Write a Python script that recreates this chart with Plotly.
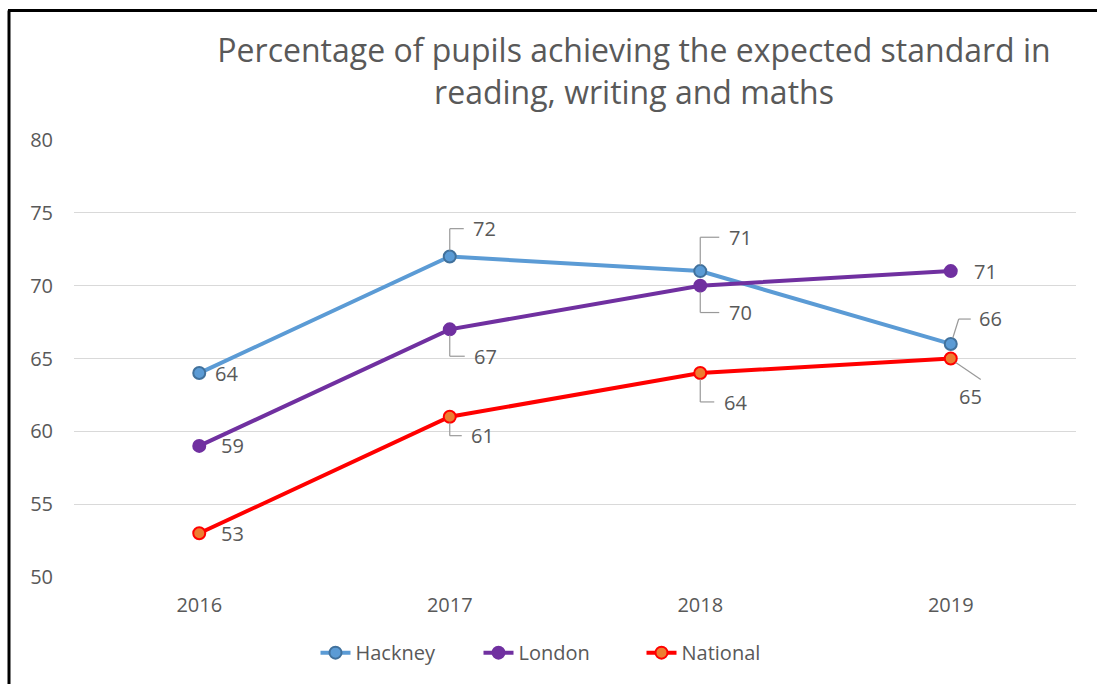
import plotly.graph_objects as go

years = ["2016", "2017", "2018", "2019"]
hackney = [64, 72, 71, 66]
london = [59, 67, 70, 71]
national = [53, 61, 64, 65]
y_ticks = [50, 55, 60, 65, 70, 75, 80]
y_range = [50, 80]
title_text = "Percentage of pupils achieving the expected standard in<br>reading, writing and maths"

W, H = 1097, 684
L, R, T, B = 74, 21, 140, 105
FONT = "Open Sans"
TXT = "#595959"
LEADER = "#999999"

series = [
    dict(name="Hackney", y=hackney, line="#5B9BD5", fill="#5B9BD5", edge="#41719C",
         # label style: (dx, dy, leader) in pixels, dy positive = up
         labels=[(27, 0, None), (35, 28, "up"), (40, 34, "up"), (40, 25, "upslant")]),
    dict(name="London", y=london, line="#7030A0", fill="#7030A0", edge="#7030A0",
         labels=[(33, 0, None), (36, -27, "down"), (40, -27, "down"), (35, 0, None)]),
    dict(name="National", y=national, line="#FF0000", fill="#ED7D31", edge="#FF0000",
         labels=[(33, 0, None), (33, -19, "down"), (35, -29, "down"), (20, -38, "downslant")]),
]

pw, ph = W - L - R, H - T - B
ppx = pw / len(years)                    # pixels per category
ppy = ph / (y_range[1] - y_range[0])     # pixels per unit

fig = go.Figure()
annotations = []
shapes = []

def seg(xi, yv, p0, p1):
    """leader segment given in pixel offsets from a data point"""
    return dict(type="line", xref="x", yref="y", layer="above",
                x0=xi + p0[0] / ppx, y0=yv + p0[1] / ppy,
                x1=xi + p1[0] / ppx, y1=yv + p1[1] / ppy,
                line=dict(color=LEADER, width=1.2))

for s in series:
    fig.add_trace(go.Scatter(
        x=years, y=s["y"], name=s["name"], mode="lines+markers",
        line=dict(color=s["line"], width=4),
        marker=dict(size=12, color=s["fill"], line=dict(color=s["edge"], width=2)),
    ))
    for xi, (yv, (dx, dy, leader)) in enumerate(zip(s["y"], s["labels"])):
        annotations.append(dict(
            x=xi, y=yv, xref="x", yref="y", text=str(yv), showarrow=False,
            xshift=dx, yshift=dy, font=dict(family=FONT, size=20, color=TXT),
        ))
        if leader in ("up", "down"):
            sgn = 1 if leader == "up" else -1
            shapes.append(seg(xi, yv, (0, 6 * sgn), (0, dy)))
            shapes.append(seg(xi, yv, (0, dy), (dx - 21, dy)))
        elif leader == "upslant":
            shapes.append(seg(xi, yv, (2, 6), (8, dy)))
            shapes.append(seg(xi, yv, (8, dy), (dx - 20, dy)))
        elif leader == "downslant":
            shapes.append(seg(xi, yv, (5, -4), (dx + 10, dy + 17)))

def px2x(px):
    return (px - L) / pw
def py2y(py):
    return (H - B - py) / ph
shapes += [
    dict(type="line", xref="paper", yref="paper", x0=px2x(9), x1=px2x(9),
         y0=py2y(10), y1=py2y(H + 5), line=dict(color="black", width=3)),
    dict(type="line", xref="paper", yref="paper", x0=px2x(8), x1=px2x(W + 5),
         y0=py2y(10), y1=py2y(10), line=dict(color="black", width=3)),
]

fig.update_layout(
    width=W, height=H,
    margin=dict(l=L, r=R, t=T, b=B),
    paper_bgcolor="white", plot_bgcolor="white",
    title=dict(text=title_text, x=634 / W, xanchor="center", y=1 - 62 / H, yanchor="middle",
               font=dict(family=FONT, size=32, color=TXT)),
    font=dict(family=FONT, color=TXT),
    showlegend=True,
    legend=dict(orientation="h", x=px2x(560), xanchor="center", y=py2y(655), yanchor="middle",
                font=dict(family=FONT, size=20, color=TXT), entrywidth=118),
    xaxis=dict(type="category", range=[-0.5, 3.5], showgrid=False, zeroline=False, showline=False,
               tickfont=dict(family=FONT, size=20, color=TXT), ticks="", ticklabelstandoff=14),
    yaxis=dict(range=y_range, tickvals=y_ticks, showgrid=True, gridcolor="#D9D9D9", gridwidth=1,
               zeroline=False, showline=False, ticks="", ticklabelstandoff=20,
               tickfont=dict(family=FONT, size=20, color=TXT)),
    annotations=annotations, shapes=shapes,
)
fig.write_html("out.html")
